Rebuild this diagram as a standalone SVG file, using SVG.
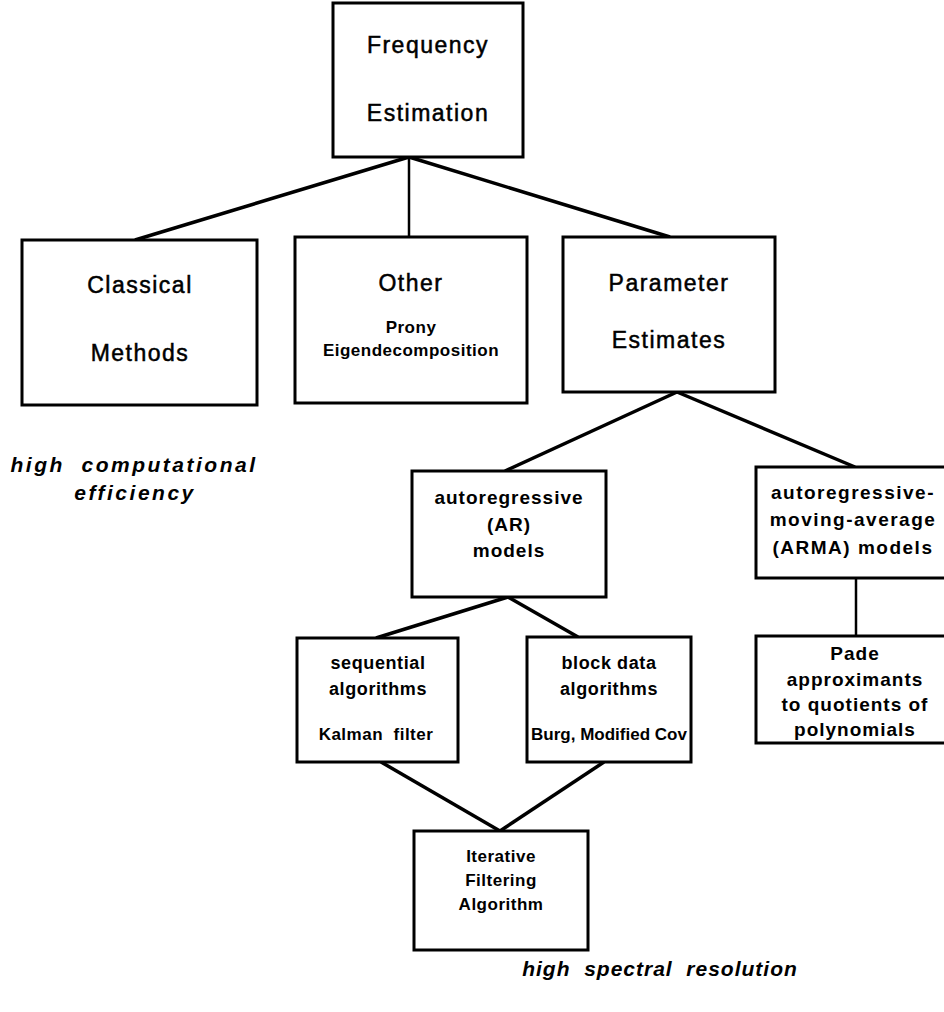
<svg xmlns="http://www.w3.org/2000/svg" width="944" height="1012" viewBox="0 0 944 1012">
<style>
.box{fill:#fff;stroke:#000;stroke-width:3}
text{font-family:"Liberation Sans",Arial,sans-serif;text-anchor:middle;fill:#000}
.big{font-size:23px;letter-spacing:1.5px;stroke:#000;stroke-width:0.5}
.mid{font-size:19px;font-weight:bold;letter-spacing:1px}
.md2{font-size:18px;font-weight:bold;letter-spacing:0.6px}
.sm{font-size:17px;font-weight:bold;letter-spacing:0.5px}
.it{font-size:21px;font-style:italic;font-weight:bold;letter-spacing:2.5px}
.ln{stroke:#000;stroke-width:3.5;fill:none}
</style>
<g id="connectors">
<line class="ln" x1="409" y1="157" x2="135" y2="240"/>
<line class="ln" x1="409" y1="157" x2="409" y2="237" style="stroke-width:2.5"/>
<line class="ln" x1="409" y1="157" x2="670" y2="237"/>
<line class="ln" x1="677" y1="392" x2="505" y2="471"/>
<line class="ln" x1="677" y1="392" x2="855" y2="467"/>
<line class="ln" x1="856" y1="578" x2="856" y2="637" style="stroke-width:2.5"/>
<line class="ln" x1="508" y1="597" x2="376" y2="638"/>
<line class="ln" x1="508" y1="597" x2="578" y2="637"/>
<line class="ln" x1="381" y1="762" x2="500" y2="831"/>
<line class="ln" x1="604" y1="762" x2="500" y2="831"/>
</g>
<g id="freq">
<rect class="box" x="333" y="3" width="190" height="154"/>
<text class="big" x="428" y="53">Frequency</text>
<text class="big" x="428" y="121">Estimation</text>
</g>
<g id="classical">
<rect class="box" x="22" y="240" width="235" height="165"/>
<text class="big" x="140" y="293">Classical</text>
<text class="big" x="140" y="361">Methods</text>
</g>
<g id="other">
<rect class="box" x="295" y="237" width="232" height="166"/>
<text class="big" x="411" y="291">Other</text>
<text class="sm" x="411" y="333">Prony</text>
<text class="sm" x="411" y="356">Eigendecomposition</text>
</g>
<g id="param">
<rect class="box" x="563" y="237" width="212" height="155"/>
<text class="big" x="669" y="291">Parameter</text>
<text class="big" x="669" y="348">Estimates</text>
</g>
<g id="ar">
<rect class="box" x="412" y="471" width="194" height="126"/>
<text class="mid" x="509" y="504">autoregressive</text>
<text class="mid" x="509" y="531">(AR)</text>
<text class="mid" x="509" y="557">models</text>
</g>
<g id="arma">
<rect class="box" x="756" y="467" width="194" height="111"/>
<text class="mid" x="853" y="499" style="letter-spacing:1.5px">autoregressive-</text>
<text class="mid" x="853" y="526" style="letter-spacing:1.5px">moving-average</text>
<text class="mid" x="853" y="554" style="letter-spacing:1.5px">(ARMA) models</text>
</g>
<g id="pade">
<rect class="box" x="756" y="636" width="194" height="107"/>
<text class="mid" x="855" y="660">Pade</text>
<text class="mid" x="855" y="686">approximants</text>
<text class="mid" x="855" y="711">to quotients of</text>
<text class="mid" x="855" y="736">polynomials</text>
</g>
<g id="seq">
<rect class="box" x="297" y="638" width="161" height="124"/>
<text class="md2" x="378" y="669">sequential</text>
<text class="md2" x="378" y="695">algorithms</text>
<text class="sm" x="376" y="740" xml:space="preserve">Kalman  filter</text>
</g>
<g id="block">
<rect class="box" x="527" y="637" width="164" height="125"/>
<text class="md2" x="609" y="669">block data</text>
<text class="md2" x="609" y="695">algorithms</text>
<text class="sm" x="609" y="740" style="letter-spacing:0">Burg, Modified Cov</text>
</g>
<g id="iter">
<rect class="box" x="414" y="831" width="174" height="119"/>
<text class="sm" x="501" y="862">Iterative</text>
<text class="sm" x="501" y="886">Filtering</text>
<text class="sm" x="501" y="910">Algorithm</text>
</g>
<g id="labels">
<text class="it" x="134" y="472" xml:space="preserve">high  computational</text>
<text class="it" x="135" y="500">efficiency</text>
<text class="it" x="660" y="976" xml:space="preserve" style="letter-spacing:1px">high  spectral  resolution</text>
</g>
</svg>
